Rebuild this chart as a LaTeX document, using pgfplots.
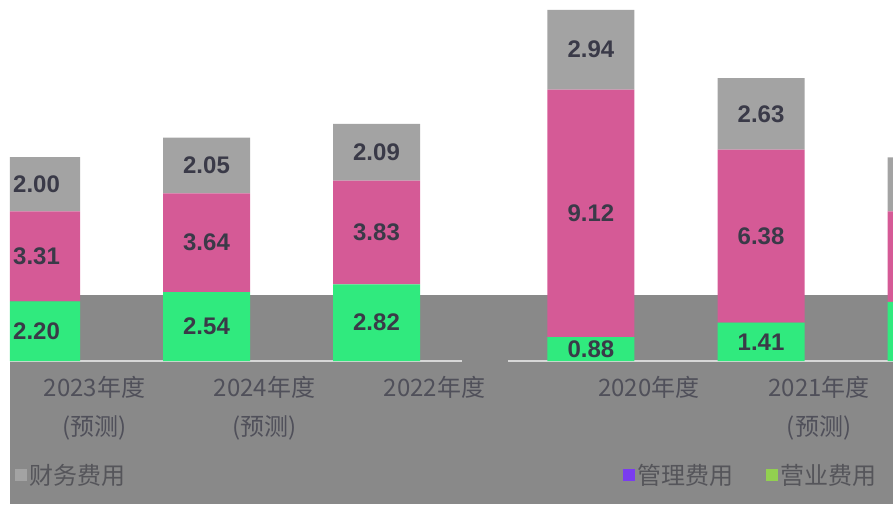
\documentclass[border=0pt]{standalone}
\usepackage{pgfplots}
\usepackage{pgfplotstable}
\pgfplotsset{compat=1.18}
\usepackage{fontspec}
\setmainfont{Liberation Sans}
\newfontfamily\cjk{Noto Sans CJK SC}

\definecolor{finC}{RGB}{163,163,163}
\definecolor{mgmC}{RGB}{213,90,150}
\definecolor{salC}{RGB}{48,234,126}
\definecolor{legMgm}{RGB}{122,60,240}
\definecolor{legSal}{RGB}{146,208,80}
\definecolor{bgGray}{RGB}{137,137,137}
\definecolor{axGray}{RGB}{215,215,215}
\definecolor{labC}{RGB}{58,58,72}
\definecolor{tickC}{RGB}{80,80,90}
\definecolor{legC}{RGB}{85,85,90}

% sal = 营业费用, mgm = 管理费用, fin = 财务费用
\pgfplotstableread{
x sal mgm fin
0 2.20 3.31 2.00
1 2.54 3.64 2.05
2 2.82 3.83 2.09
}\leftdata
\pgfplotstableread{
x sal mgm fin
0 0.88 9.12 2.94
1 1.41 6.38 2.63
2 2.18 3.33 1.99
}\rightdata

% stacked nodes near coords sit in the middle of their segment by default
\pgfplotsset{cost/.style={
  ybar stacked, bar width=87pt, scale only axis, height=361pt,
  ymin=0, ymax=13.3, hide y axis, axis x line*=bottom,
  x axis line style={draw=axGray, line width=2pt, -},
  xtick={0,1,2}, xtick style={draw=none},
  xticklabel style={font=\cjk\fontsize{24}{39}\selectfont, text=tickC,
    align=center, inner sep=0pt, yshift=-15pt, xshift=58pt},
  point meta=rawy,
  nodes near coords={\pgfmathprintnumber[fixed,fixed zerofill,precision=2,assume math mode=true]{\pgfplotspointmeta}},
  every node near coord/.append style={font=\bfseries\fontsize{24}{28}\selectfont,
    text=labC},
  legend style={draw=none, fill=none, inner sep=0pt,
    font=\cjk\fontsize{24}{28}\selectfont, text=legC},
}}

\begin{document}
\begin{tikzpicture}
\useasboundingbox (0pt,0pt) rectangle (893pt,504pt);
\fill[bgGray] (10pt,0pt) rectangle (893pt,209pt);

\begin{axis}[cost, at={(10pt,143pt)}, anchor=south west, width=452pt,
  xmin=-0.156, xmax=2.503,
  xticklabels={2023年度\\(预测), 2024年度\\(预测), 2022年度},
  legend image code/.code={\fill[#1] (0pt,-6pt) rectangle (12pt,6pt);},
  legend style={at={(0.011,-0.316)}, anchor=west}]
\addlegendimage{fill=finC, draw=none}
\addlegendentry{财务费用}
\addplot[fill=salC, draw=none] table[x=x, y=sal]{\leftdata};
\addplot[fill=mgmC, draw=none] table[x=x, y=mgm]{\leftdata};
\addplot[fill=finC, draw=none] table[x=x, y=fin]{\leftdata};
\end{axis}

\begin{axis}[cost, at={(508pt,143pt)}, anchor=south west, width=385pt,
  xmin=-0.488, xmax=1.776,
  xticklabels={2020年度, 2021年度\\(预测), 2025年度\\(预测)},
  legend columns=2,
  legend image code/.code={\fill[#1] (0pt,-6pt) rectangle (12pt,6pt);},
  legend style={at={(0.299,-0.316)}, anchor=west,
    /tikz/every even column/.append style={column sep=31pt}}]
\addlegendimage{fill=legMgm, draw=none}
\addlegendentry{管理费用}
\addlegendimage{fill=legSal, draw=none}
\addlegendentry{营业费用}
\addplot[fill=salC, draw=none] table[x=x, y=sal]{\rightdata};
\addplot[fill=mgmC, draw=none] table[x=x, y=mgm]{\rightdata};
\addplot[fill=finC, draw=none] table[x=x, y=fin]{\rightdata};
\end{axis}
\end{tikzpicture}
\end{document}
